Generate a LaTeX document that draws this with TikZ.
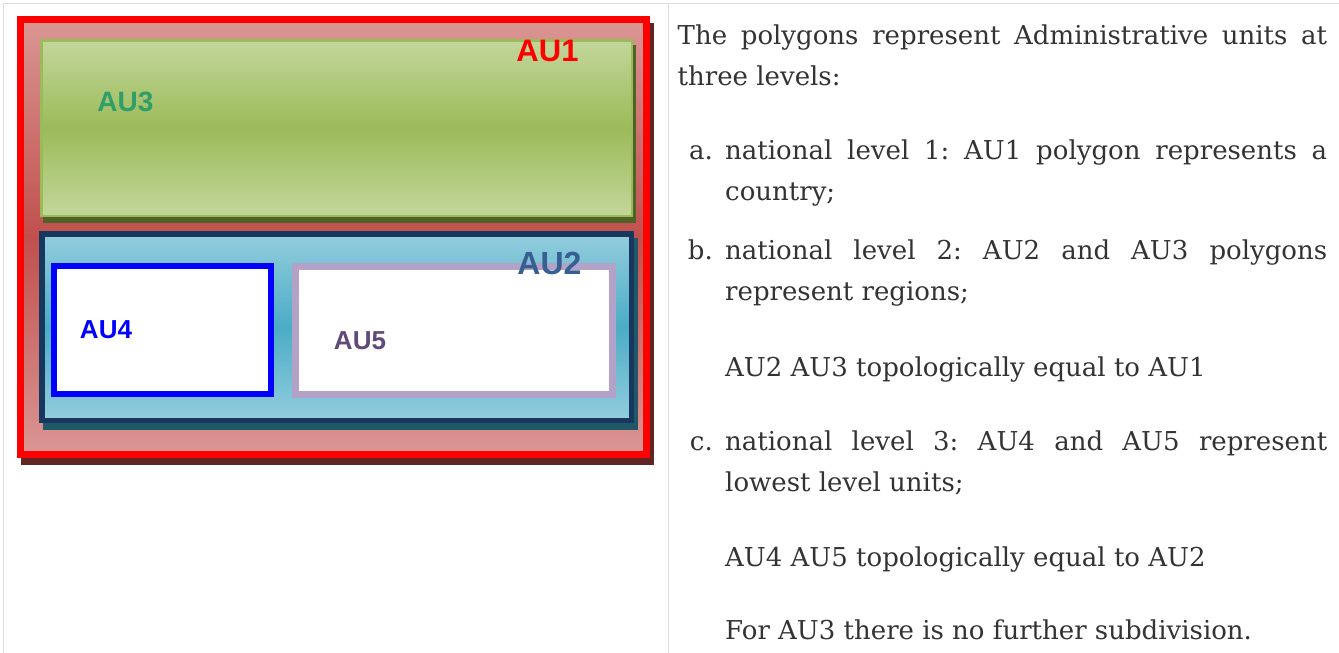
\documentclass[tikz,border=0pt]{standalone}
\usepackage{fontspec}
\setmainfont{DejaVu Serif}
\newfontfamily\aulabelfont{Liberation Sans}
\usepackage{xcolor}
\usepackage{tikz}
\usetikzlibrary{positioning}
\definecolor{tablegray}{RGB}{221,221,221}
\definecolor{bodygray}{RGB}{51,51,51}
\definecolor{auonelight}{RGB}{218,150,148}
\definecolor{auonedark}{RGB}{192,80,77}
\definecolor{auoneshadow}{RGB}{99,37,35}
\definecolor{authreelight}{RGB}{195,214,155}
\definecolor{authreemid}{RGB}{155,187,89}
\definecolor{authreeshadow}{RGB}{79,98,40}
\definecolor{authreetext}{RGB}{49,158,106}
\definecolor{autwolight}{RGB}{147,205,221}
\definecolor{autwomid}{RGB}{75,172,198}
\definecolor{autwoline}{RGB}{23,55,94}
\definecolor{autwoshadow}{RGB}{33,88,104}
\definecolor{autwotext}{RGB}{55,96,146}
\definecolor{aufiveline}{RGB}{179,162,199}
\definecolor{aufivetext}{RGB}{96,74,123}
\tikzset{
    unit/.style = {rectangle, inner sep=0pt, outer sep=0pt},
    unitshadow/.style args = {#1/#2/#3/#4}{preaction={draw=#1, fill=#1, line width=#2, transform canvas={shift={(#3,#4)}}}},
    country/.style = {unit, unitshadow={auoneshadow/7pt/4pt/-7pt}, draw=red, line width=7pt,
        shading=axis, top color=auonelight, bottom color=auonelight, middle color=auonedark},
    regiongreen/.style = {unit, unitshadow={authreeshadow/2.5pt/3pt/-6pt}, draw=authreemid, line width=2.5pt,
        shading=axis, top color=authreelight, bottom color=authreelight, middle color=authreemid},
    regionblue/.style = {unit, unitshadow={autwoshadow/5.5pt/4pt/-7pt}, draw=autwoline, line width=5.5pt,
        shading=axis, top color=autwolight, bottom color=autwolight, middle color=autwomid},
    lowest/.style = {unit, fill=white},
    aulabel/.style = {inner sep=0pt, font=\aulabelfont\bfseries\fontsize{#1}{#1}\selectfont},
    textline/.style = {anchor=base west, inner sep=0pt, text=bodygray, font=\fontsize{26}{41}\selectfont\frenchspacing},
    itemmark/.style = {anchor=base east, inner sep=0pt, text=bodygray, font=\fontsize{26}{41}\selectfont},
    tableline/.style = {draw=tablegray, line width=1.5pt}
}

\begin{document}
\begin{tikzpicture}[x=1pt, y=-1pt]
    \useasboundingbox (0,0) rectangle (1339,653);

    % table frame
    \draw [tableline] (3.5,653) -- (3.5,3.5) -- (1339,3.5);
    \draw [tableline] (668.5,3.5) -- (668.5,653);

    % administrative units
    \node [country, minimum width=626pt, minimum height=435pt] (au1) at (333.5,237) {};
    \node [regiongreen, minimum width=590.5pt, minimum height=175.5pt] (au3) at (336.5,128) {};
    \node [regionblue, minimum width=589.5pt, minimum height=186.5pt] (au2) at (336.5,327) {};
    \node [lowest, draw=blue, line width=5.7pt, minimum width=217.3pt, minimum height=128.3pt] (au4) at (162.5,330) {};
    \node [lowest, draw=aufiveline, line width=7pt, minimum width=317pt, minimum height=128pt] (au5) at (454,330.5) {};

    \node [aulabel=31, text=red] (au1lbl) at (547.5,50.5) {AU1};
    \node [aulabel=28, text=authreetext] (au3lbl) at (125.5,102) {AU3};
    \node [aulabel=32, text=autwotext] (au2lbl) at (549.5,263.5) {AU2};
    \node [aulabel=26, text=blue] (au4lbl) at (106,330) {AU4};
    \node [aulabel=26, text=aufivetext] (au5lbl) at (360,341) {AU5};

    % description
    \node [textline] (intro1) at (677.5,44.5) {\makebox[649.5pt][s]{The polygons represent Administrative units at}};
    \node [textline] (intro2) at (677.5,85.5) {three levels:};
    \node [itemmark] (marka) at (713,159.5) {a.};
    \node [textline] (itema1) at (725,159.5) {\makebox[602pt][s]{national level 1: AU1 polygon represents a}};
    \node [textline] (itema2) at (725,200.5) {country;};
    \node [itemmark] (markb) at (713,259.5) {b.};
    \node [textline] (itemb1) at (725,259.5) {\makebox[602pt][s]{national level 2: AU2 and AU3 polygons}};
    \node [textline] (itemb2) at (725,300.5) {represent regions;};
    \node [textline] (noteb) at (725,376) {AU2 AU3 topologically equal to AU1};
    \node [itemmark] (markc) at (713,450) {c.};
    \node [textline] (itemc1) at (725,450) {\makebox[602pt][s]{national level 3: AU4 and AU5 represent}};
    \node [textline] (itemc2) at (725,491.5) {lowest level units;};
    \node [textline] (notec) at (725,566) {AU4 AU5 topologically equal to AU2};
    \node [textline] (final) at (725,639.5) {For AU3 there is no further subdivision.};
\end{tikzpicture}
\end{document}
